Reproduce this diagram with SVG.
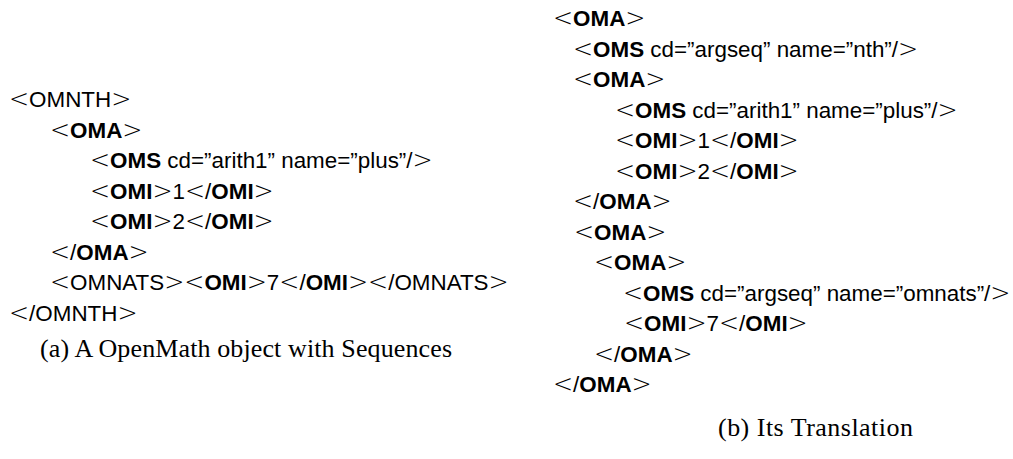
<svg xmlns="http://www.w3.org/2000/svg" width="1013" height="459" viewBox="0 0 1013 459">
  <style>
    .code { font-family: "Liberation Sans", Arial, sans-serif; font-size: 22.4px; fill: #000; }
    .b { font-weight: bold; }
    .ang { font-family: "DejaVu Sans", "DejaVu Serif", serif; font-size: 24px; font-weight: 200; }
    .cap { font-family: "Liberation Serif", "Times New Roman", serif; font-size: 26px; fill: #000; }
  </style>
  <rect width="1013" height="459" fill="#fff"/>

  <!-- (a) OpenMath object with sequences -->
  <g id="listing-a" class="code">
    <text x="9" y="107"><tspan class="ang">&lt;</tspan>OMNTH<tspan class="ang">&gt;</tspan></text>
    <text x="50" y="137.5"><tspan class="ang">&lt;</tspan><tspan class="b">OMA</tspan><tspan class="ang">&gt;</tspan></text>
    <text x="90" y="168"><tspan class="ang">&lt;</tspan><tspan class="b">OMS</tspan> cd=”arith1” name=”plus”/<tspan class="ang">&gt;</tspan></text>
    <text x="90" y="198.5"><tspan class="ang">&lt;</tspan><tspan class="b">OMI</tspan><tspan class="ang">&gt;</tspan>1<tspan class="ang">&lt;</tspan>/<tspan class="b">OMI</tspan><tspan class="ang">&gt;</tspan></text>
    <text x="90" y="229"><tspan class="ang">&lt;</tspan><tspan class="b">OMI</tspan><tspan class="ang">&gt;</tspan>2<tspan class="ang">&lt;</tspan>/<tspan class="b">OMI</tspan><tspan class="ang">&gt;</tspan></text>
    <text x="50" y="259.5"><tspan class="ang">&lt;</tspan>/<tspan class="b">OMA</tspan><tspan class="ang">&gt;</tspan></text>
    <text x="50" y="290"><tspan class="ang">&lt;</tspan>OMNATS<tspan class="ang">&gt;&lt;</tspan><tspan class="b">OMI</tspan><tspan class="ang">&gt;</tspan>7<tspan class="ang">&lt;</tspan>/<tspan class="b">OMI</tspan><tspan class="ang">&gt;&lt;</tspan>/OMNATS<tspan class="ang">&gt;</tspan></text>
    <text x="9" y="320.5"><tspan class="ang">&lt;</tspan>/OMNTH<tspan class="ang">&gt;</tspan></text>
  </g>
  <text id="caption-a" class="cap" x="40" y="357" textLength="412" lengthAdjust="spacing">(a) A OpenMath object with Sequences</text>

  <!-- (b) its translation -->
  <g id="listing-b" class="code">
    <text x="553" y="26"><tspan class="ang">&lt;</tspan><tspan class="b">OMA</tspan><tspan class="ang">&gt;</tspan></text>
    <text x="573" y="56.5"><tspan class="ang">&lt;</tspan><tspan class="b">OMS</tspan> cd=”argseq” name=”nth”/<tspan class="ang">&gt;</tspan></text>
    <text x="573" y="87"><tspan class="ang">&lt;</tspan><tspan class="b">OMA</tspan><tspan class="ang">&gt;</tspan></text>
    <text x="615" y="117.5"><tspan class="ang">&lt;</tspan><tspan class="b">OMS</tspan> cd=”arith1” name=”plus”/<tspan class="ang">&gt;</tspan></text>
    <text x="615" y="148"><tspan class="ang">&lt;</tspan><tspan class="b">OMI</tspan><tspan class="ang">&gt;</tspan>1<tspan class="ang">&lt;</tspan>/<tspan class="b">OMI</tspan><tspan class="ang">&gt;</tspan></text>
    <text x="615" y="178.5"><tspan class="ang">&lt;</tspan><tspan class="b">OMI</tspan><tspan class="ang">&gt;</tspan>2<tspan class="ang">&lt;</tspan>/<tspan class="b">OMI</tspan><tspan class="ang">&gt;</tspan></text>
    <text x="573" y="209"><tspan class="ang">&lt;</tspan>/<tspan class="b">OMA</tspan><tspan class="ang">&gt;</tspan></text>
    <text x="574" y="239.5"><tspan class="ang">&lt;</tspan><tspan class="b">OMA</tspan><tspan class="ang">&gt;</tspan></text>
    <text x="594" y="270"><tspan class="ang">&lt;</tspan><tspan class="b">OMA</tspan><tspan class="ang">&gt;</tspan></text>
    <text x="623" y="300.5"><tspan class="ang">&lt;</tspan><tspan class="b">OMS</tspan> cd=”argseq” name=”omnats”/<tspan class="ang">&gt;</tspan></text>
    <text x="624" y="331"><tspan class="ang">&lt;</tspan><tspan class="b">OMI</tspan><tspan class="ang">&gt;</tspan>7<tspan class="ang">&lt;</tspan>/<tspan class="b">OMI</tspan><tspan class="ang">&gt;</tspan></text>
    <text x="594" y="361.5"><tspan class="ang">&lt;</tspan>/<tspan class="b">OMA</tspan><tspan class="ang">&gt;</tspan></text>
    <text x="553" y="392"><tspan class="ang">&lt;</tspan>/<tspan class="b">OMA</tspan><tspan class="ang">&gt;</tspan></text>
  </g>
  <text id="caption-b" class="cap" x="718" y="436" textLength="195" lengthAdjust="spacing">(b) Its Translation</text>
</svg>
